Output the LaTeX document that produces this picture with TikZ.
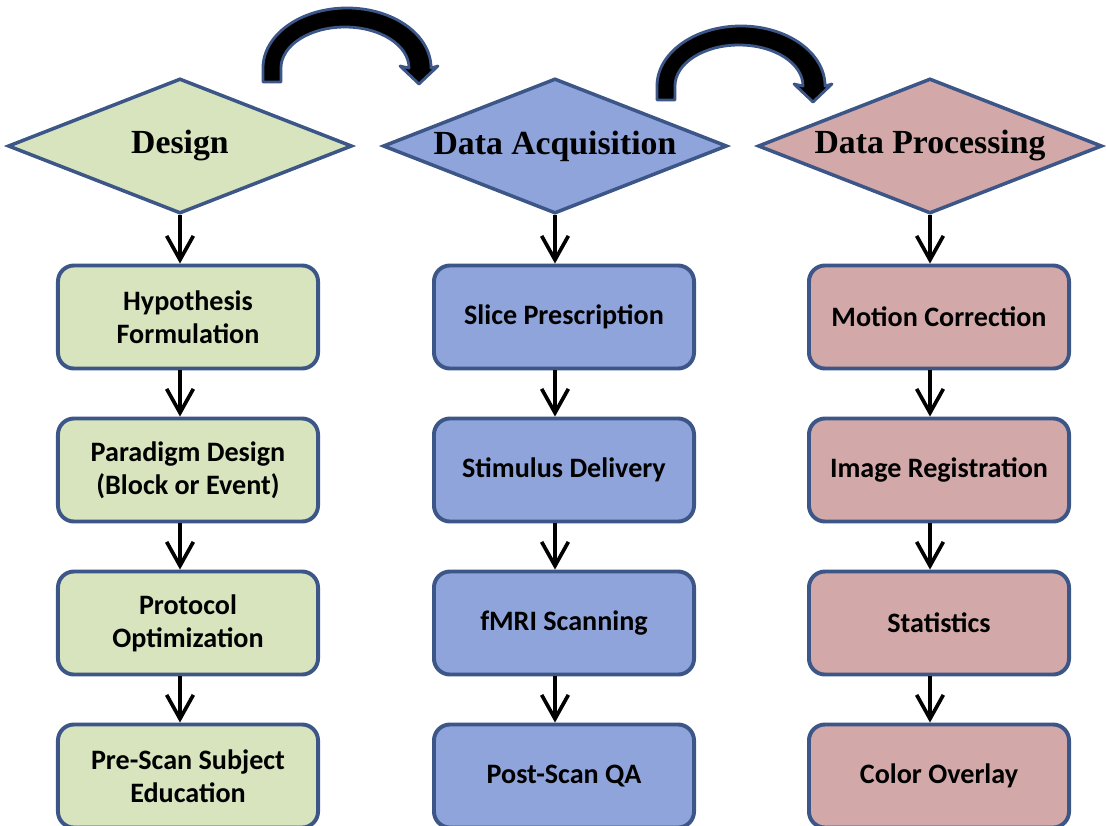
\documentclass[tikz,border=0pt]{standalone}
\usepackage{fontspec}
\setmainfont{Liberation Serif}
\newfontfamily\boxfont{Carlito}
\usetikzlibrary{arrows.meta}
\usetikzlibrary{shapes.geometric}
\usetikzlibrary{positioning}
\definecolor{olivefill}{HTML}{D7E4BD}
\definecolor{bluefill}{HTML}{8FA4DB}
\definecolor{rosefill}{HTML}{D2A9A8}
\definecolor{edgeblue}{HTML}{3C5688}
\tikzset{stage/.style = {diamond, draw=edgeblue, line width=2.5pt, inner sep=0pt,
                         minimum width=8.6cm, minimum height=3.375cm,
                         font=\bfseries\fontsize{24}{28}\selectfont}}
\tikzset{task/.style = {rectangle, rounded corners=0.4cm, draw=edgeblue, line width=2.8pt,
                        minimum width=6.5cm, minimum height=2.575cm, align=center,
                        font=\boxfont\bfseries\fontsize{20}{23.5}\selectfont}}
\tikzset{down/.style = {-{Straight Barb[length=17pt, width=19pt]}, line width=2.6pt}}
% label of zero width, so the diamond keeps its set size
\newcommand{\stagelabel}[1]{\makebox[0pt]{#1}}
\newcommand{\bentarrow}{%
  \filldraw [fill=black, draw=edgeblue, line width=2pt, line join=round]
    (263, 82) -- (263, 68) arc [start angle=180, end angle=0, x radius=2.1cm, y radius=1.5cm]
    -- (438, 66) -- (419, 84) -- (400, 66) -- (409, 68)
    arc [start angle=0, end angle=180, x radius=1.6cm, y radius=1.025cm]
    -- (281, 82) -- cycle;}

\begin{document}
\begin{tikzpicture}[x=0.025cm, y=-0.025cm]
      \useasboundingbox (0, 0) rectangle (1106, 825);

      \bentarrow
      \begin{scope}[shift={(394, 18)}]
        \bentarrow
      \end{scope}

      \node [stage, fill=olivefill] (design) at (180, 146) {\stagelabel{Design}};
      \node [stage, fill=bluefill] (acq) at (555, 146) {\stagelabel{Data Acquisition}};
      \node [stage, fill=rosefill] (proc) at (930, 146) {\stagelabel{Data Processing}};

      \node [task, fill=olivefill] (hyp) at (188, 317) {Hypothesis\\Formulation};
      \node [task, fill=olivefill] (para) at (188, 470) {Paradigm Design\\(Block or Event)};
      \node [task, fill=olivefill] (proto) at (188, 623) {Protocol\\Optimization};
      \node [task, fill=olivefill] (edu) at (188, 776) {Pre-Scan Subject\\Education};

      \node [task, fill=bluefill] (slice) at (564, 317) {Slice Prescription};
      \node [task, fill=bluefill] (stim) at (564, 470) {Stimulus Delivery};
      \node [task, fill=bluefill] (scan) at (564, 623) {fMRI Scanning};
      \node [task, fill=bluefill] (qa) at (564, 776) {Post-Scan QA};

      \node [task, fill=rosefill] (motion) at (939, 317) {Motion Correction};
      \node [task, fill=rosefill] (reg) at (939, 470) {Image Registration};
      \node [task, fill=rosefill] (stats) at (939, 623) {Statistics};
      \node [task, fill=rosefill] (overlay) at (939, 776) {Color Overlay};

      \draw [down] (design.south) -- (design.south |- hyp.north);
      \draw [down] (design.south |- hyp.south) -- (design.south |- para.north);
      \draw [down] (design.south |- para.south) -- (design.south |- proto.north);
      \draw [down] (design.south |- proto.south) -- (design.south |- edu.north);

      \draw [down] (acq.south) -- (acq.south |- slice.north);
      \draw [down] (acq.south |- slice.south) -- (acq.south |- stim.north);
      \draw [down] (acq.south |- stim.south) -- (acq.south |- scan.north);
      \draw [down] (acq.south |- scan.south) -- (acq.south |- qa.north);

      \draw [down] (proc.south) -- (proc.south |- motion.north);
      \draw [down] (proc.south |- motion.south) -- (proc.south |- reg.north);
      \draw [down] (proc.south |- reg.south) -- (proc.south |- stats.north);
      \draw [down] (proc.south |- stats.south) -- (proc.south |- overlay.north);
    \end{tikzpicture}
\end{document}
